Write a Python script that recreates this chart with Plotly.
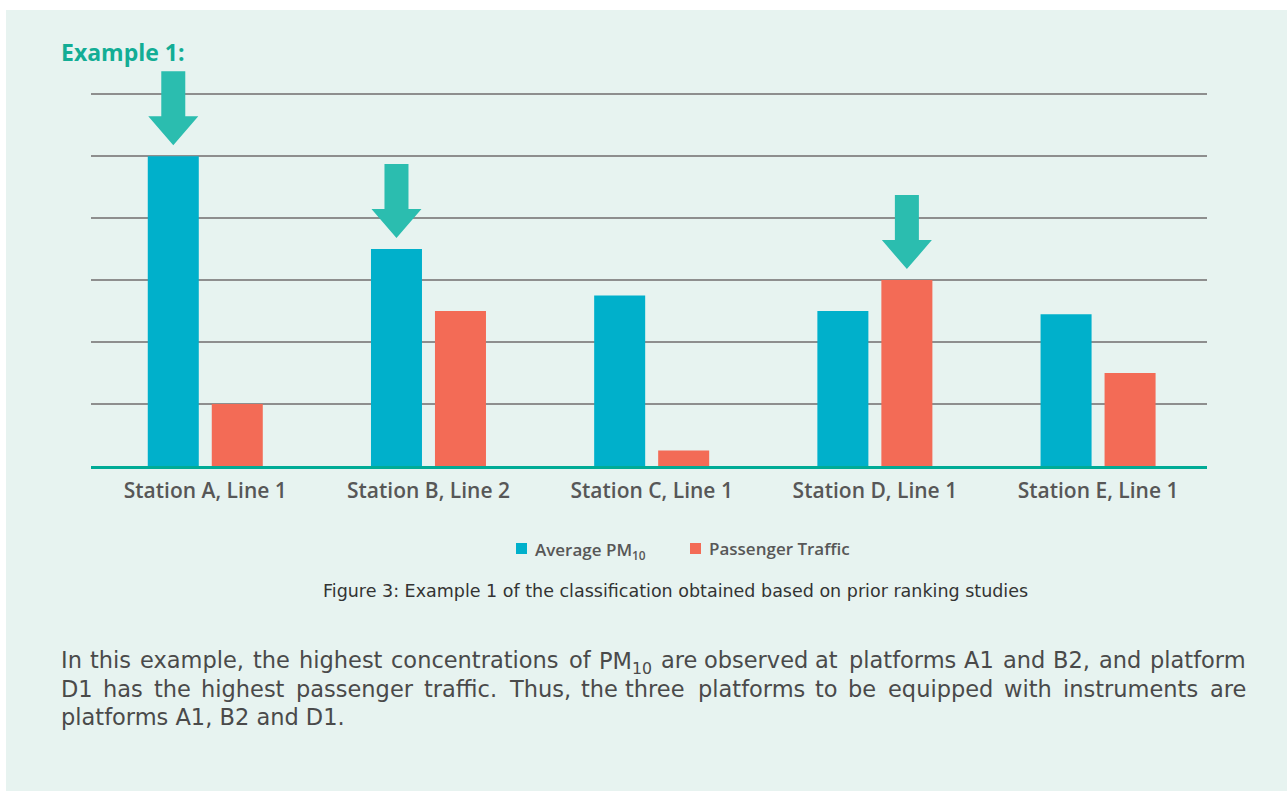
import re
import plotly.graph_objects as go

# ---- data -------------------------------------------------------------
stations = ["Station A, Line 1", "Station B, Line 2", "Station C, Line 1",
            "Station D, Line 1", "Station E, Line 1"]
avg_pm10 = [5.0, 3.5, 2.75, 2.5, 2.45]
passenger_traffic = [1.0, 2.5, 0.25, 3.0, 1.5]

# bars singled out with an arrow: (station, series)
flagged = [("Station A, Line 1", "pm10"),
           ("Station B, Line 2", "pm10"),
           ("Station D, Line 1", "traffic")]

legend_labels = ["Average PM<sub>10</sub>", "Passenger Traffic"]
title_text = "Example 1:"
caption_text = "Figure 3: Example 1 of the classification obtained based on prior ranking studies"
paragraph_lines = [
    "In this example, the highest concentrations of PM<sub>10</sub> are observed at platforms A1 and B2, and platform",
    "D1 has the highest passenger traffic. Thus, the three platforms to be equipped with instruments are",
    "platforms A1, B2 and D1.",
]

# ---- styling ----------------------------------------------------------
BLUE = "#00b0cb"
RED = "#f36b56"
TEAL = "#2bbdaf"
TEAL_DARK = "#00ab96"
PANEL = "#e7f3f0"
GRID = "#8e8e8e"

W, H = 1287, 791
ML, MR, MT, MB = 91, 80, 57, 325
PW, PH = W - ML - MR, H - MT - MB
YMAX = 6.6
BARGAP = 0.4265
BARGROUPGAP = 0.203

PARA_SIZE = 22.5
PARA_LEFT, PARA_RIGHT = 59, 1248

# DejaVu Sans advance widths (font units, 2048 per em) for text justification
_ADV = {" ": 651, ",": 651, ".": 651, ":": 690, "0": 1303, "1": 1303, "2": 1303,
        "A": 1401, "B": 1405, "D": 1577, "I": 604, "M": 1767, "P": 1235, "T": 1251,
        "a": 1255, "b": 1300, "c": 1126, "d": 1300, "e": 1260, "f": 721, "g": 1300,
        "h": 1298, "i": 569, "j": 569, "k": 1186, "l": 569, "m": 1995, "n": 1298,
        "o": 1253, "p": 1300, "q": 1300, "r": 842, "s": 1067, "t": 803, "u": 1298,
        "v": 1212, "w": 1675, "x": 1212, "y": 1212, "z": 1075}


def text_width(word, size):
    units = 0.0
    for m in re.finditer(r"<sub>(.*?)</sub>|([^<]+)", word):
        part = m.group(1) if m.group(1) is not None else m.group(2)
        scale = 0.7 if m.group(1) is not None else 1.0
        units += scale * sum(_ADV.get(ch, 1250) for ch in part)
    return 1.012 * units / 2048 * size


def px_x(px):
    return (px - ML) / PW


def px_y(py):
    return 1 - (py - MT) / PH


fig = go.Figure()
fig.add_trace(go.Bar(x=stations, y=avg_pm10, name="Average PM10",
                     marker=dict(color=BLUE, line=dict(width=0)),
                     showlegend=False, hoverinfo="x+y"))
fig.add_trace(go.Bar(x=stations, y=passenger_traffic, name="Passenger Traffic",
                     marker=dict(color=RED, line=dict(width=0)),
                     showlegend=False, hoverinfo="x+y"))

shapes = []
# panel background
shapes.append(dict(type="rect", xref="paper", yref="paper", layer="below",
                   x0=px_x(6), x1=px_x(W + 5), y0=px_y(10), y1=px_y(H + 5),
                   fillcolor=PANEL, line=dict(width=0)))

# arrows pointing at the flagged bars (pixel-sized, anchored on the bar top)
half_slot = (1 - BARGAP) / 4
series_vals = {"pm10": (avg_pm10, -half_slot), "traffic": (passenger_traffic, half_slot)}
arrow_path = "M-12,85 L12,85 L12,40 L25,40 L0,11 L-25,40 L-12,40 Z"
for st, key in flagged:
    vals, off = series_vals[key]
    i = stations.index(st)
    shapes.append(dict(type="path", xref="x", yref="y",
                       xsizemode="pixel", ysizemode="pixel",
                       xanchor=i + off, yanchor=vals[i],
                       path=arrow_path, fillcolor=TEAL, line=dict(width=0),
                       layer="above"))

# manual legend keys
legend_keys = [(516, BLUE), (690, RED)]
for x0, col in legend_keys:
    shapes.append(dict(type="rect", xref="paper", yref="paper",
                       x0=px_x(x0), x1=px_x(x0 + 11), y0=px_y(554), y1=px_y(543),
                       fillcolor=col, line=dict(width=0)))

annotations = []
annotations.append(dict(text=f"<b>{title_text}</b>", xref="paper", yref="paper",
                        x=px_x(59), y=px_y(52), xanchor="left", yanchor="middle",
                        showarrow=False,
                        font=dict(family="Open Sans", size=23, color="#13ad95")))
for (x0, _), lab in zip(legend_keys, legend_labels):
    annotations.append(dict(text=lab, xref="paper", yref="paper",
                            x=px_x(x0 + 17), y=px_y(548.5), xanchor="left",
                            yanchor="middle", showarrow=False,
                            yshift=-2 if "<sub>" in lab else 0,
                            font=dict(family="Open Sans", size=17, color="#575757",
                                      weight=600)))
annotations.append(dict(text=caption_text, xref="paper", yref="paper",
                        x=px_x(675), y=px_y(591), xanchor="center", yanchor="middle",
                        showarrow=False,
                        font=dict(family="DejaVu Sans", size=17.5, color="#333333")))

# body paragraph: justified lines, last line left-aligned
para_font = dict(family="DejaVu Sans", size=PARA_SIZE, color="#4a4a4a")
for k, line in enumerate(paragraph_lines):
    yc = 660 + k * 28.7
    last = k == len(paragraph_lines) - 1
    if last:
        annotations.append(dict(text=line, xref="paper", yref="paper",
                                x=px_x(PARA_LEFT), y=px_y(yc), xanchor="left",
                                yanchor="middle", showarrow=False, font=para_font))
        continue
    words = line.split(" ")
    widths = [text_width(w, PARA_SIZE) for w in words]
    gap = (PARA_RIGHT - PARA_LEFT - sum(widths)) / (len(words) - 1)
    n = len(words)
    for i, w in enumerate(words):
        if i < n / 2:
            x = PARA_LEFT + sum(widths[:i]) + gap * i
            anchor = "left"
        else:
            x = PARA_RIGHT - sum(widths[i + 1:]) - gap * (n - 1 - i)
            anchor = "right"
        annotations.append(dict(text=w, xref="paper", yref="paper",
                                x=px_x(x), y=px_y(yc), xanchor=anchor,
                                yanchor="middle", showarrow=False,
                                yshift=-3 if "<sub>" in w else 0,
                                font=para_font))

fig.update_layout(
    width=W, height=H,
    margin=dict(l=ML, r=MR, t=MT, b=MB, pad=0),
    paper_bgcolor="white", plot_bgcolor="rgba(0,0,0,0)",
    barmode="group", bargap=BARGAP, bargroupgap=BARGROUPGAP,
    shapes=shapes, annotations=annotations,
    xaxis=dict(type="category", range=[-0.512, 4.488], showgrid=False,
               showline=True, linecolor=TEAL_DARK, linewidth=3,
               ticks="outside", ticklen=4, tickcolor="rgba(0,0,0,0)",
               tickfont=dict(family="Open Sans", size=21, color="#575757", weight=600),
               fixedrange=True),
    yaxis=dict(range=[0, YMAX], tickvals=[1, 2, 3, 4, 5, 6], showticklabels=False,
               showgrid=True, gridcolor=GRID, gridwidth=1.6, zeroline=False,
               showline=False, ticks="", fixedrange=True),
    showlegend=False,
)

fig.write_html("out.html")
